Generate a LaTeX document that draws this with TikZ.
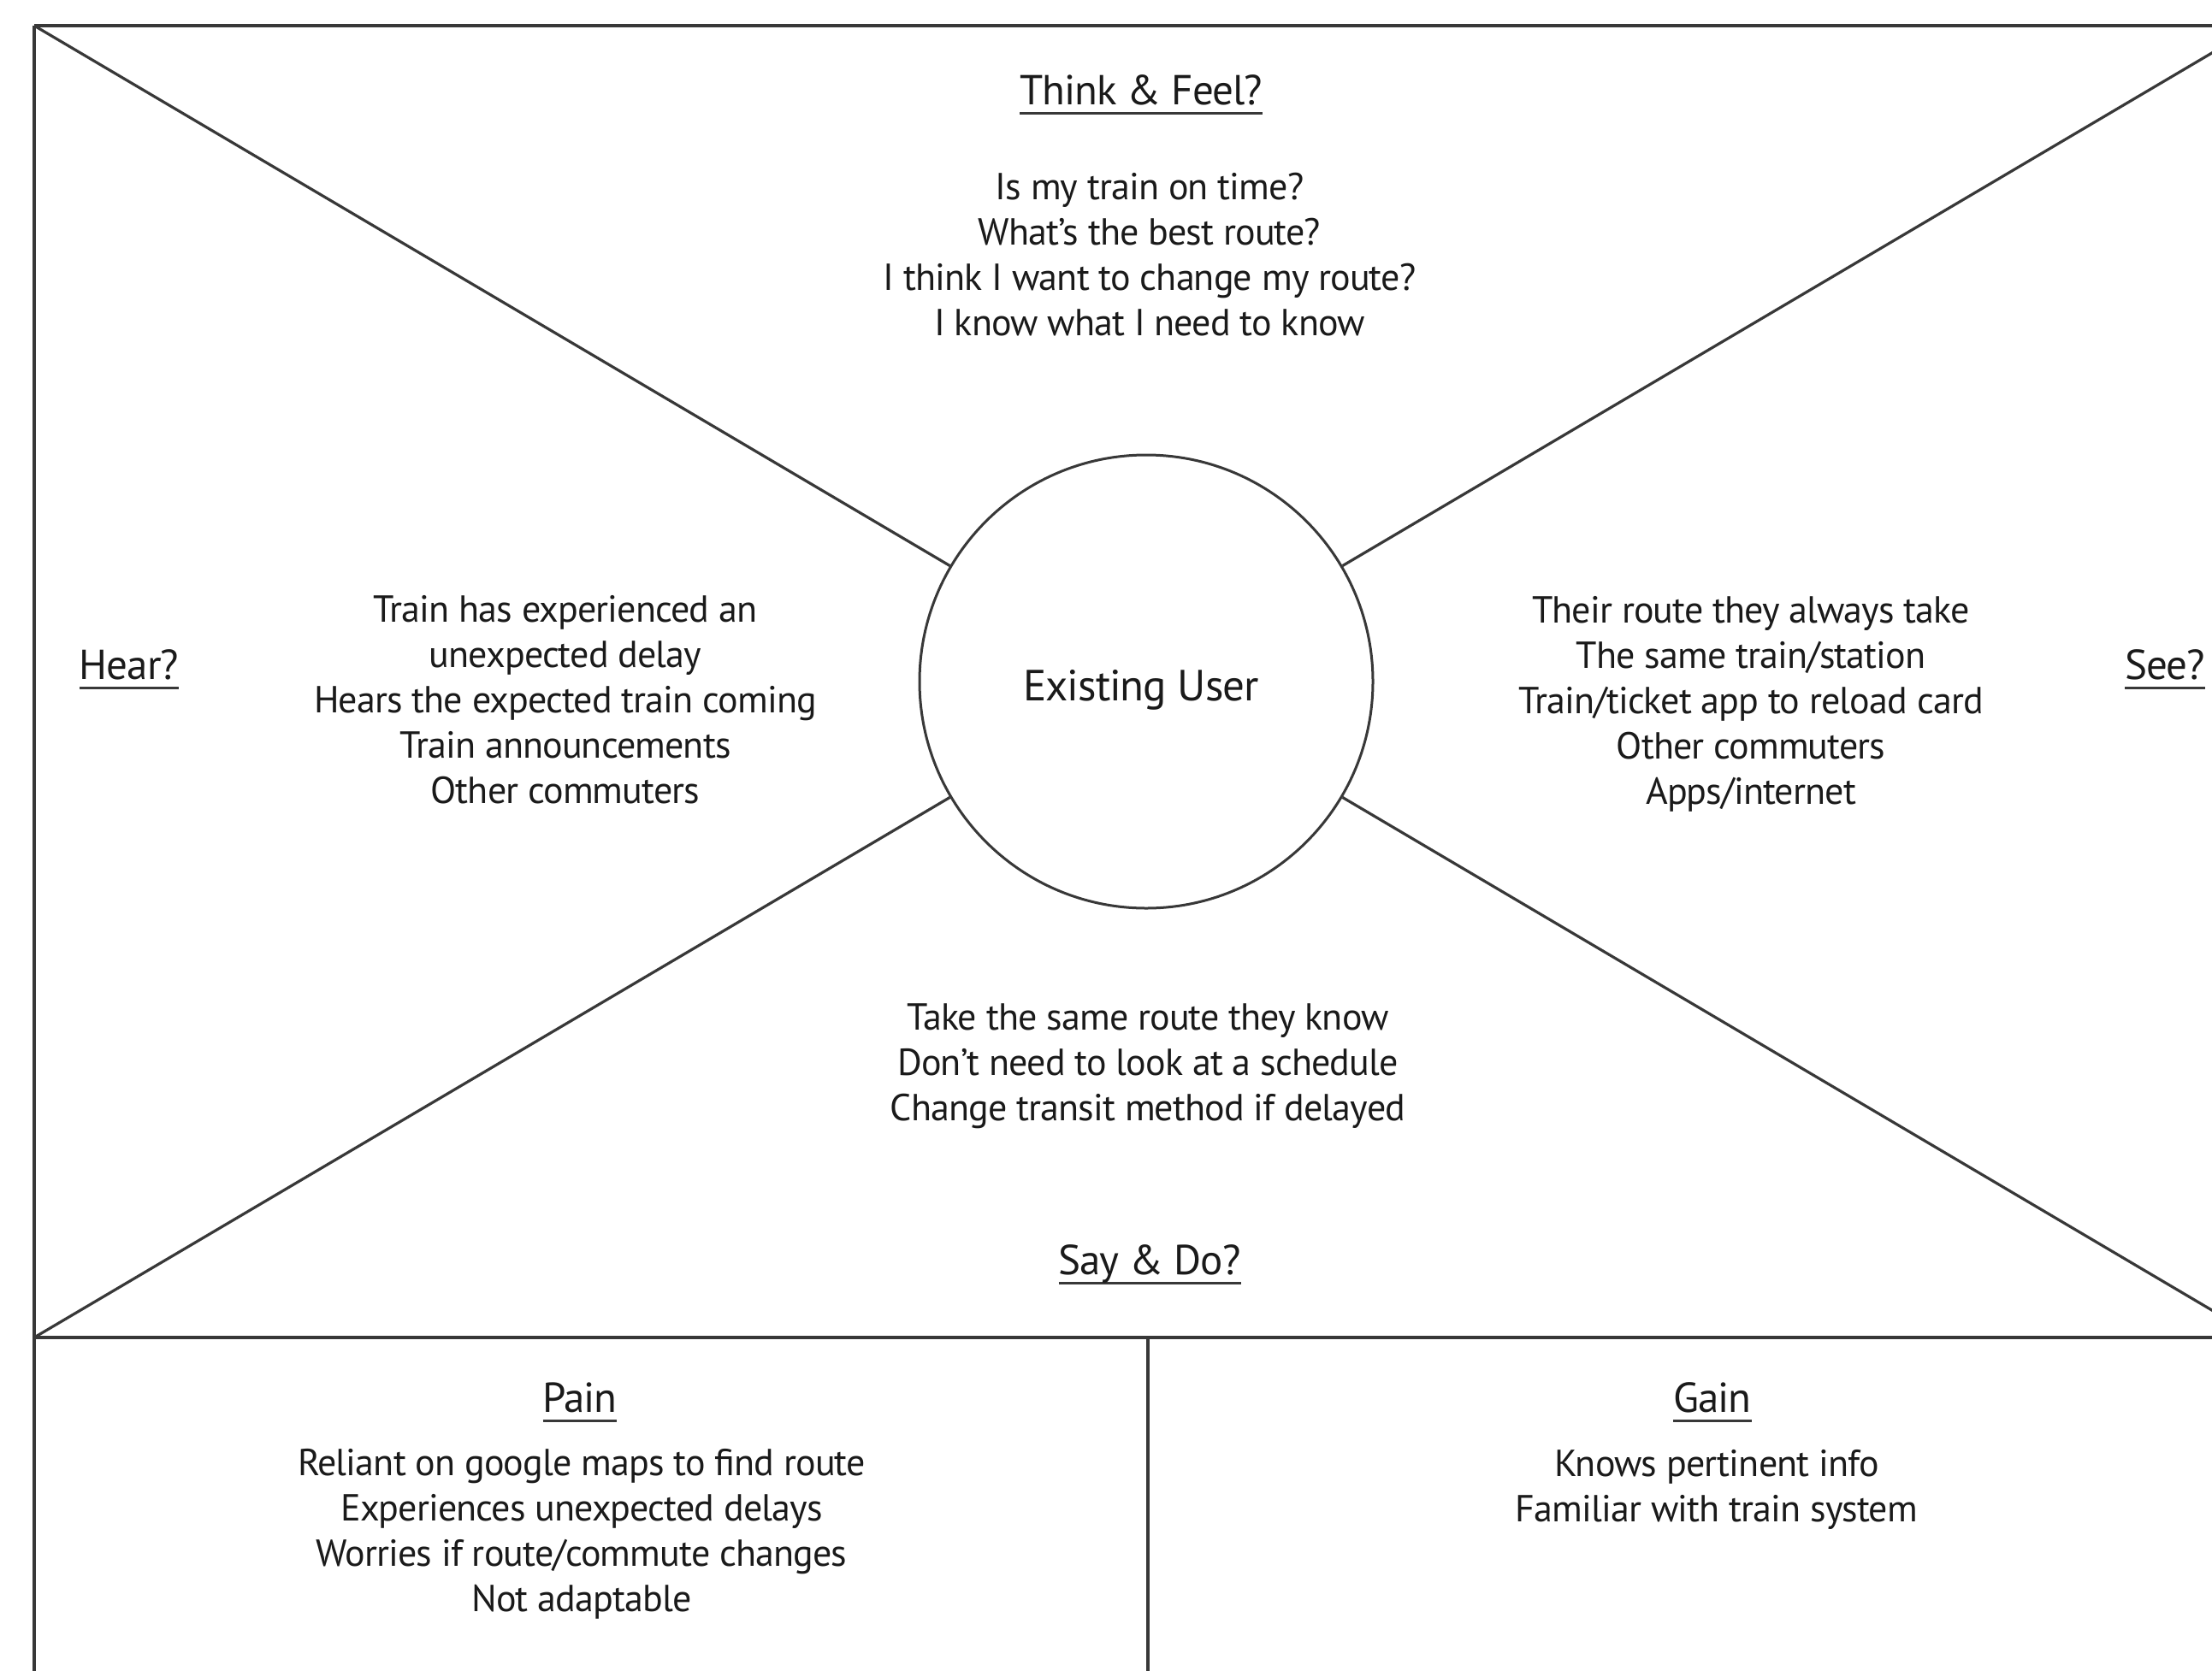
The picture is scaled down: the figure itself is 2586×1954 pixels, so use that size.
\documentclass[tikz,border=0pt]{standalone}
\usepackage{fontspec}
\setmainfont[LetterSpace=-2.0]{PT Sans}
\definecolor{linecol}{HTML}{383838}
\definecolor{textcol}{HTML}{1A1A1A}
\newcommand{\myul}[1]{\setbox0\hbox{#1}\rlap{\color{linecol}\rule[-5.5pt]{\wd0}{1.3pt}}\box0}
\begin{document}
\begin{tikzpicture}[x=0.5pt,y=-0.5pt,
  frame/.style={draw=linecol, line width=1.9pt},
  diag/.style={draw=linecol, line width=1.6pt},
  body/.style={align=center, text=textcol, font=\fontsize{22}{26.5}\selectfont, inner sep=0pt},
  head/.style={text=textcol, font=\fontsize{24.5}{28}\selectfont, inner sep=0pt},
  usercirc/.style={circle, draw=linecol, line width=1.5pt, minimum size=265pt, inner sep=0pt},
  userlabel/.style={text=textcol, font=\fontsize{25.5}{30}\selectfont, inner sep=0pt}]
\useasboundingbox (0,0) rectangle (2586,1954);
\fill[white] (0,0) rectangle (2586,1954);
\begin{scope}
\clip (0,0) rectangle (2586,1954);
\coordinate (tl) at (40,30);
\coordinate (tr) at (2640,30);
\coordinate (bl) at (40,1564);
\coordinate (br) at (2640,1564);
\coordinate (lb) at (40,2100);
\coordinate (mt) at (1342,1564);
\coordinate (mb) at (1342,2100);
\node[usercirc] (user) at (1340,797) {};
\draw[frame] (tl) -- (tr);
\draw[frame] (tl) -- (lb);
\draw[frame] (bl) -- (br);
\draw[frame] (mt) -- (mb);
\draw[diag] (tl) -- (user);
\draw[diag] (tr) -- (user);
\draw[diag] (bl) -- (user);
\draw[diag] (br) -- (user);
\end{scope}
\node[userlabel] (userlbl) at (1334,807) {Existing User};
\node[head] (think) at (1334,111) {\myul{Think \& Feel?}};
\node[body] (thinktxt) at (1344,298) {Is my train on time?\\What’s the best route?\\I think I want to change my route?\\I know what I need to know};
\node[head] (hear) at (151,783) {\myul{Hear?}};
\node[body] (heartxt) at (661,818) {Train has experienced an\\unexpected delay\\Hears the expected train coming\\Train announcements\\Other commuters};
\node[head] (see) at (2531,783) {\myul{See?}};
\node[body] (seetxt) at (2047,823) {Their route they always take\\The same train/station\\Train/ticket app to reload card\\Other commuters\\Apps/internet};
\node[body] (saytxt) at (1342,1247) {Take the same route they know\\Don’t need to look at a schedule\\Change transit method if delayed};
\node[head] (say) at (1344,1479) {\myul{Say \& Do?}};
\node[head] (pain) at (678,1640) {\myul{Pain}};
\node[body] (paintxt) at (680,1794) {Reliant on google maps to find route\\Experiences unexpected delays\\Worries if route/commute changes\\Not adaptable};
\node[head] (gain) at (2002,1640) {\myul{Gain}};
\node[body] (gaintxt) at (2007,1742) {Knows pertinent info\\Familiar with train system};
\end{tikzpicture}
\end{document}
